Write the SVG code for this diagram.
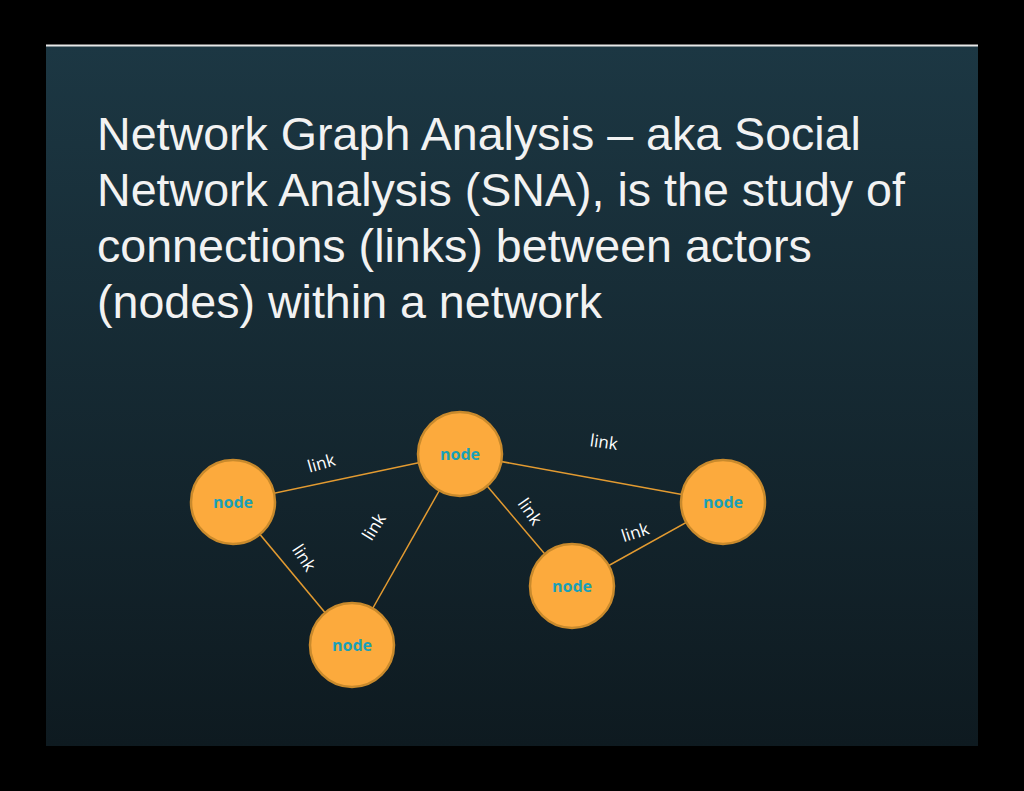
<svg xmlns="http://www.w3.org/2000/svg" width="1024" height="791" viewBox="0 0 1024 791">
<defs>
<linearGradient id="bg" x1="0" y1="0" x2="0" y2="1">
<stop offset="0" stop-color="#1c3743"/>
<stop offset="1" stop-color="#0e1a20"/>
</linearGradient>
<style>
.title{font-family:"Liberation Sans",Arial,sans-serif;font-size:46.6px;fill:#f2f2f2}
.n circle{fill:#fcaa3d;stroke:#c98a2c;stroke-width:2.5}
.n text{font-family:"Open Sans","Noto Sans",sans-serif;font-weight:bold;font-size:16px;fill:#1aa0b6;text-anchor:middle}
.edges line{stroke:#e39b31;stroke-width:1.5}
.lbl{font-family:"Open Sans","Noto Sans",sans-serif;font-size:17px;fill:#ffffff;text-anchor:middle}
</style>
</defs>
<rect x="0" y="0" width="1024" height="791" fill="#000"/>
<rect x="46" y="46" width="932" height="700" fill="url(#bg)"/>
<rect x="46" y="44.5" width="932" height="2" fill="#e8e8e8"/>
<g id="title">
<text class="title" x="97" y="150">Network Graph Analysis – aka Social</text>
<text class="title" x="97" y="206">Network Analysis (SNA), is the study of</text>
<text class="title" x="97" y="262">connections (links) between actors</text>
<text class="title" x="97" y="318">(nodes) within a network</text>
</g>
<g id="connectors" class="edges">
<line x1="233" y1="502" x2="460" y2="454"/>
<line x1="233" y1="502" x2="352" y2="645"/>
<line x1="460" y1="454" x2="352" y2="645"/>
<line x1="460" y1="454" x2="723" y2="502"/>
<line x1="460" y1="454" x2="572" y2="586"/>
<line x1="572" y1="586" x2="723" y2="502"/>
<text class="lbl" transform="translate(323,469) rotate(-16)">link</text>
<text class="lbl" transform="translate(299,561) rotate(57)">link</text>
<text class="lbl" transform="translate(379,530) rotate(-58)">link</text>
<text class="lbl" transform="translate(603,448) rotate(8)">link</text>
<text class="lbl" transform="translate(525,515) rotate(55)">link</text>
<text class="lbl" transform="translate(637,538) rotate(-18)">link</text>
</g>
<g id="node1" class="n"><circle cx="233" cy="502" r="42"/><text x="233" y="507.5">node</text></g>
<g id="node2" class="n"><circle cx="460" cy="454" r="42"/><text x="460" y="459.5">node</text></g>
<g id="node3" class="n"><circle cx="723" cy="502" r="42"/><text x="723" y="507.5">node</text></g>
<g id="node4" class="n"><circle cx="572" cy="586" r="42"/><text x="572" y="591.5">node</text></g>
<g id="node5" class="n"><circle cx="352" cy="645" r="42"/><text x="352" y="650.5">node</text></g>
</svg>
